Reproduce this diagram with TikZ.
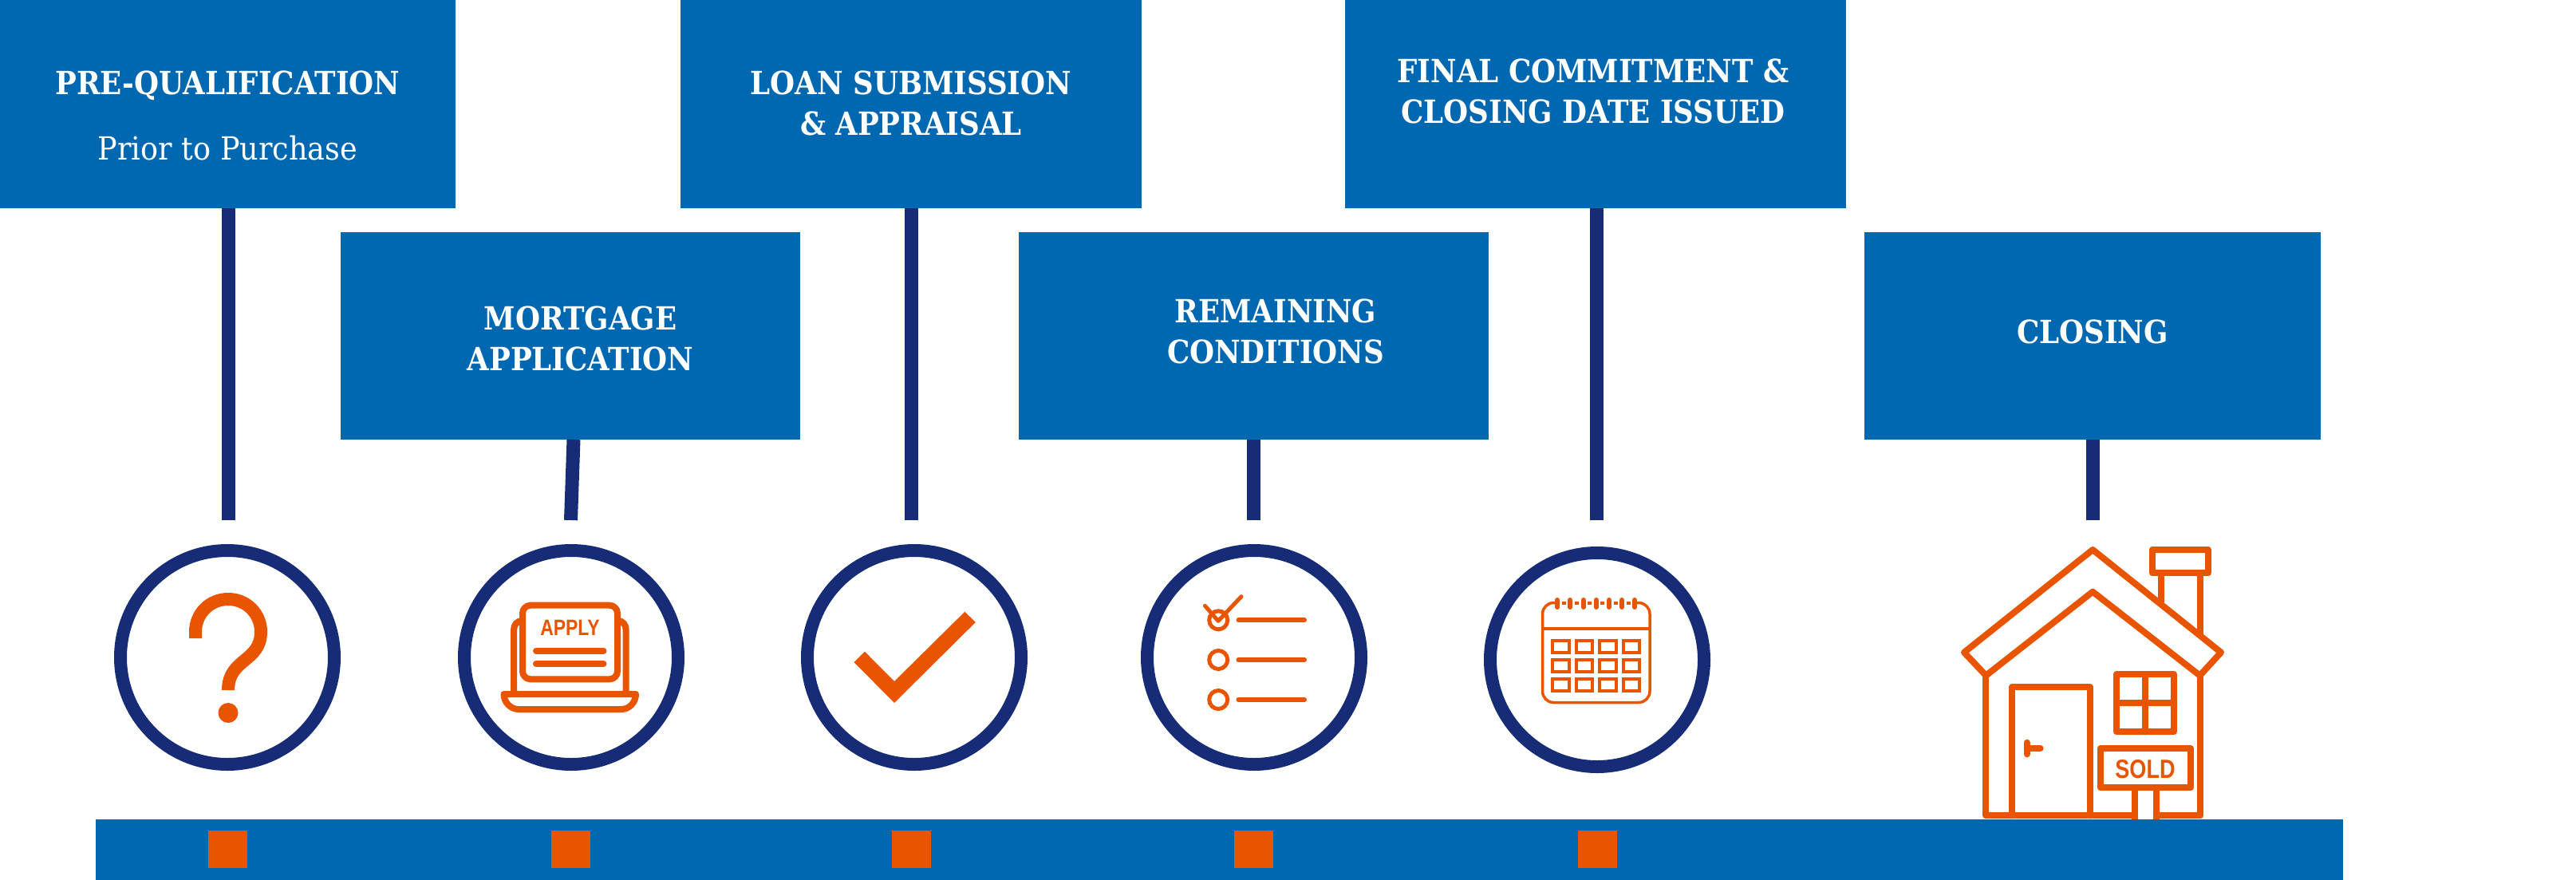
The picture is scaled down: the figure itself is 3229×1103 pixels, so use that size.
\documentclass[tikz,border=0pt]{standalone}
\usepackage{fontspec}
\usepackage{xcolor}
\usetikzlibrary{positioning, calc}
\newfontfamily\slabfont[FakeStretch=0.89]{DejaVu Serif}
\newfontfamily\slablight[FakeStretch=0.915]{DejaVu Serif}
\newfontfamily\signfont[FakeStretch=0.82]{Liberation Sans}
\definecolor{stepblue}{HTML}{0067B1}
\definecolor{stemnavy}{HTML}{172C77}
\definecolor{iconorange}{HTML}{E85400}
\tikzset{
    stepbox/.style={fill=stepblue, inner sep=0pt, outer sep=0pt, anchor=north west},
    steptext/.style={text=white, inner sep=0pt, outer sep=0pt, align=center, anchor=base, font=\slabfont\bfseries\fontsize{40}{51}\selectfont},
    stem/.style={draw=stemnavy, line width=17pt},
    ring/.style={circle, draw=stemnavy, line width=16pt, minimum size=268pt, inner sep=0pt},
    iconline/.style={draw=iconorange, line width=8pt, line join=round, line cap=round},
    marker/.style={fill=iconorange, minimum width=49pt, minimum height=47pt, inner sep=0pt, outer sep=0pt},
}
\begin{document}
\begin{tikzpicture}[x=1pt, y=-1pt]
    \useasboundingbox (0,0) rectangle (3229,1103);

    % Boxes along the top
    \node[stepbox, minimum width=571pt, minimum height=261pt] (boxqual) at (0,0) {};
    \node[stepbox, minimum width=576pt, minimum height=260.5pt] (boxapply) at (427,290.5) {};
    \node[stepbox, minimum width=578pt, minimum height=261pt] (boxloan) at (853,0) {};
    \node[stepbox, minimum width=589pt, minimum height=260.5pt] (boxcond) at (1277,290.5) {};
    \node[stepbox, minimum width=628pt, minimum height=261pt] (boxfinal) at (1686,0) {};
    \node[stepbox, minimum width=572pt, minimum height=260.5pt] (boxclose) at (2337,290.5) {};

    % Box texts
    \node[steptext] (textqual) at (285.5,118) {PRE-QUALIFICATION};
    \node[steptext, font=\slablight\fontsize{40}{51}\selectfont] (textprior) at (285.5,200) {Prior to Purchase};
    \node[steptext] (textapplya) at (727.5,413) {MORTGAGE};
    \node[steptext] (textapplyb) at (727.5,464) {APPLICATION};
    \node[steptext] (textloana) at (1142,118) {LOAN SUBMISSION};
    \node[steptext] (textloanb) at (1142,169) {\& APPRAISAL};
    \node[steptext] (textconda) at (1599,404) {REMAINING};
    \node[steptext] (textcondb) at (1599,455) {CONDITIONS};
    \node[steptext] (textfinala) at (1997,103) {FINAL COMMITMENT \&};
    \node[steptext] (textfinalb) at (1997,154) {CLOSING DATE ISSUED};
    \node[steptext] (textclose) at (2623,430) {CLOSING};

    % Rings
    \node[ring] (ringqual) at (285,824) {};
    \node[ring] (ringapply) at (716,824) {};
    \node[ring] (ringloan) at (1146,824) {};
    \node[ring] (ringcond) at (1572,824) {};
    \node[ring] (ringfinal) at (2002,827) {};

    % Free ends of the stems
    \coordinate (tipqual) at (286,652);
    \coordinate (tipapply) at (715.5,652);
    \coordinate (tiploan) at (1142.5,652);
    \coordinate (tipcond) at (1571.5,652);
    \coordinate (tipfinal) at (2001,652);
    \coordinate (tipclose) at (2623.5,652);

    \draw[stem] (boxqual.south -| tipqual) -- (tipqual);
    \draw[stem] ($(boxapply.south)+(4,0)$) -- (tipapply);
    \draw[stem] (boxloan.south -| tiploan) -- (tiploan);
    \draw[stem] (boxcond.south -| tipcond) -- (tipcond);
    \draw[stem] (boxfinal.south -| tipfinal) -- (tipfinal);
    \draw[stem] (boxclose.south -| tipclose) -- (tipclose);

    % Bottom bar
    \fill[stepblue] (120,1027) rectangle (2937,1103);
    \foreach \name/\xpos in {qual/285.5, apply/715.5, loan/1142, cond/1571.5, final/2002}
        \node[marker] (mark\name) at (\xpos,1064.5) {};

    % Question mark
    \draw[draw=iconorange, line width=16pt] (245,800) -- (245,792) .. controls (245,769) and (263,751) .. (286,751)
        .. controls (309,751) and (327,769) .. (327,792) .. controls (327,830) and (286,825) .. (286,865);
    \fill[iconorange] (286,893.5) circle (12.5);

    % Laptop
    \draw[iconline, rounded corners=10pt] (655,758.7) rectangle (774,851.3);
    \draw[iconline] (644,868) -- (644,790) .. controls (644,783) and (648,778) .. (655,778);
    \draw[iconline] (784.7,868) -- (784.7,790) .. controls (784.7,783) and (781,778) .. (774,778);
    \draw[iconline] (631.5,870) -- (797,870) .. controls (797,880) and (789,889) .. (779,889) -- (650,889) .. controls (640,889) and (631.5,880) .. (631.5,870) -- cycle;
    \draw[iconline] (672,815.7) -- (756.5,815.7);
    \draw[iconline] (672,832) -- (756.5,832);
    \node[text=iconorange, inner sep=0pt, anchor=base, font=\signfont\bfseries\fontsize{28}{28}\selectfont] (applylabel) at (714.5,796) {APPLY};

    % Check mark
    \fill[iconorange] (1070.5,830) -- (1084,816.7) -- (1121,854) -- (1209.4,766.7) -- (1222.8,780) -- (1121,881) -- cycle;

    % Check list
    \foreach \ypos in {777.3, 827, 877} {
        \draw[draw=iconorange, line width=5pt] (1527.2,\ypos) circle (11.5);
        \draw[iconline, line width=6pt] (1552.5,\ypos) -- (1635,\ypos);
    }
    \draw[iconline, line width=5pt] (1510.4,759.3) -- (1527,778.3) -- (1556,747.7);

    % Calendar
    \draw[draw=iconorange, line width=3.5pt, rounded corners=14pt] (1950,755.5) -- (1933.5,755.5) -- (1933.5,880.5) -- (2068,880.5) -- (2068,755.5) -- (2051,755.5);
    \draw[draw=iconorange, line width=4pt] (1933.5,788) -- (2068,788);
    \foreach \xpos in {1952.3, 1968.4, 1984.6, 2000.7, 2016.9, 2033, 2049}
        \draw[iconline, line width=6pt] (\xpos,752) -- (\xpos,761);
    \foreach \xpos in {1960.4, 1976.5, 1992.6, 2008.8, 2025, 2041}
        \draw[draw=iconorange, line width=4pt] ({\xpos-2.5},756) -- ({\xpos+2.5},756);
    \foreach \row in {0,1,2}
        \foreach \col in {0,1,2,3}
            \draw[draw=iconorange, line width=4pt] ({1946+29.6*\col},{803+24*\row}) rectangle ++(20.5,15);

    % House
    \draw[iconline] (2623.2,689) -- (2462,817.7) -- (2489.4,846.7) -- (2623.2,741.7) -- (2757.5,846.7) -- (2784,817.7) -- cycle;
    \draw[iconline] (2489.4,846.7) -- (2489.4,1022.3) -- (2675.8,1022.3);
    \draw[iconline] (2702.8,1022.3) -- (2758.3,1022.3) -- (2758.3,846.7);
    \draw[iconline] (2521.8,1022.3) -- (2521.8,861.3) -- (2619.9,861.3) -- (2619.9,1022.3);
    \draw[iconline] (2540.7,930.7) -- (2540.7,945.3) (2540.7,938) -- (2557.6,938);
    \draw[iconline] (2653,845) rectangle (2725,917.3);
    \draw[iconline] (2689.3,845) -- (2689.3,917.3) (2653,881) -- (2725,881);
    \draw[iconline] (2632.5,938.3) rectangle (2746,987.3);
    \draw[iconline, line cap=butt] (2675.8,987.3) -- (2675.8,1027) (2702.8,987.3) -- (2702.8,1027);
    \draw[iconline] (2698,689) rectangle (2768,718.3);
    \draw[iconline, line cap=butt] (2708.7,718.3) -- (2708.7,755) (2758.3,718.3) -- (2758.3,795);
    \node[text=iconorange, inner sep=0pt, anchor=base, font=\signfont\bfseries\fontsize{33}{33}\selectfont] (soldlabel) at (2689,975) {SOLD};
\end{tikzpicture}
\end{document}
